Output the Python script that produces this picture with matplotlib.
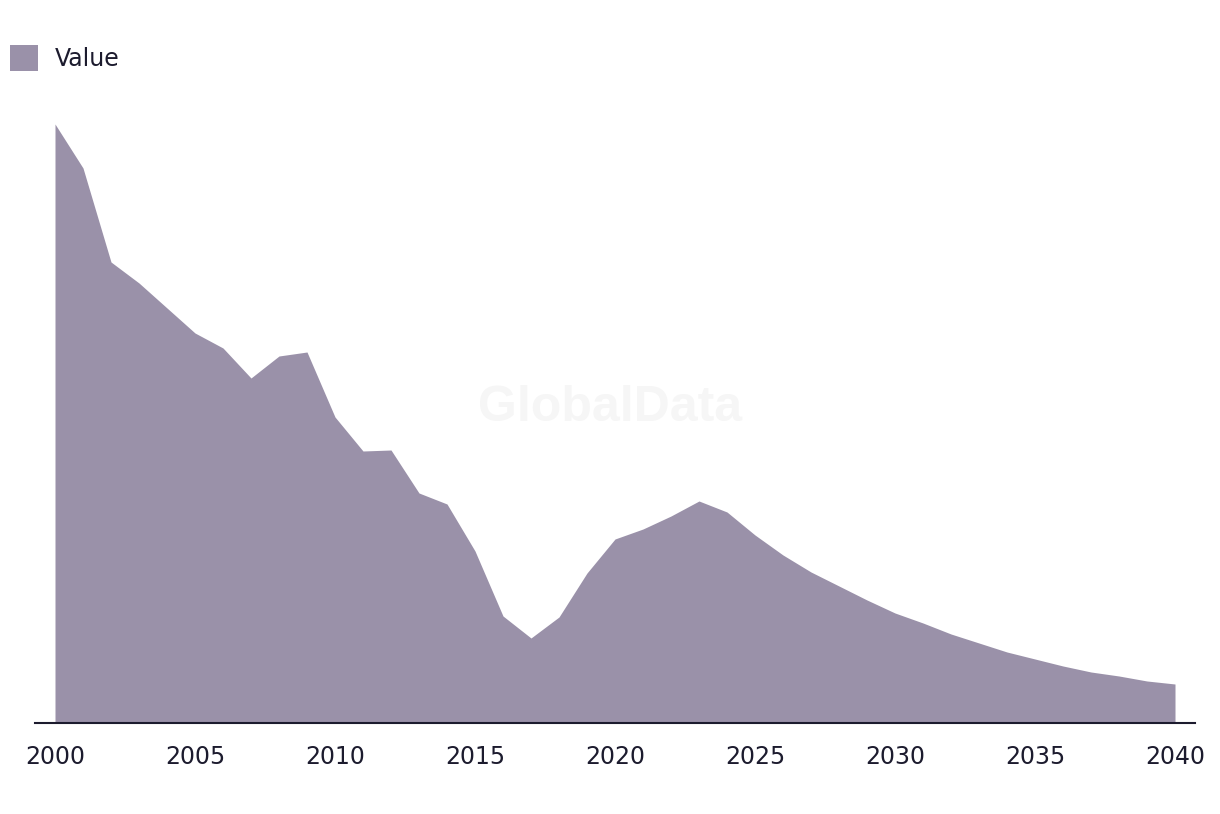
import numpy as np
import matplotlib.pyplot as plt

# data (arbitrary units, no y axis shown)
years = list(range(2000, 2041))
values = [599, 555, 461, 440, 415, 390, 375, 345, 367, 371,
          306, 272, 273, 230, 219, 172, 107, 85, 106, 150,
          184, 194, 207, 222, 211, 188, 168, 151, 137, 123,
          110, 100, 89, 80, 71, 64, 57, 51, 47, 42,
          39]
tick_years = [2000, 2005, 2010, 2015, 2020, 2025, 2030, 2035, 2040]
series_name = "Value"

fill_color = "#9a91a9"
text_color = "#1c1b2e"

fig = plt.figure(figsize=(12.2, 8.14), dpi=100)
ax = fig.add_axes([35 / 1220, 91 / 814, 1160 / 1220, 650 / 814])

ax.fill_between(years, values, 0, color=fill_color, linewidth=0, label=series_name, zorder=2)

ax.set_xlim(2000 - 20 / 28, 2040 + 20 / 28)
ax.set_ylim(0, 650)
ax.set_xticks(tick_years)
ax.tick_params(axis="x", length=0, pad=15.5, labelsize=17, labelcolor=text_color)
ax.set_yticks([])
for s in ["top", "right", "left"]:
    ax.spines[s].set_visible(False)
ax.spines["bottom"].set_color(text_color)
ax.spines["bottom"].set_linewidth(1.5)
ax.spines["bottom"].set_zorder(3)

# watermark
fig.text(610 / 1220, 1 - 408 / 814, "GlobalData", ha="center", va="center",
         family="Liberation Sans", fontsize=36, fontweight="bold",
         color="#f6f6f6", zorder=0)

leg = ax.legend(loc="upper left", bbox_to_anchor=(10 / 1220, 1 - 45 / 814),
                bbox_transform=fig.transFigure, frameon=False, fontsize=17,
                handlelength=1.19, handleheight=1.34, handletextpad=0.72,
                borderpad=0, borderaxespad=0)
for t in leg.get_texts():
    t.set_color(text_color)

fig.savefig("out.png", dpi=100)
